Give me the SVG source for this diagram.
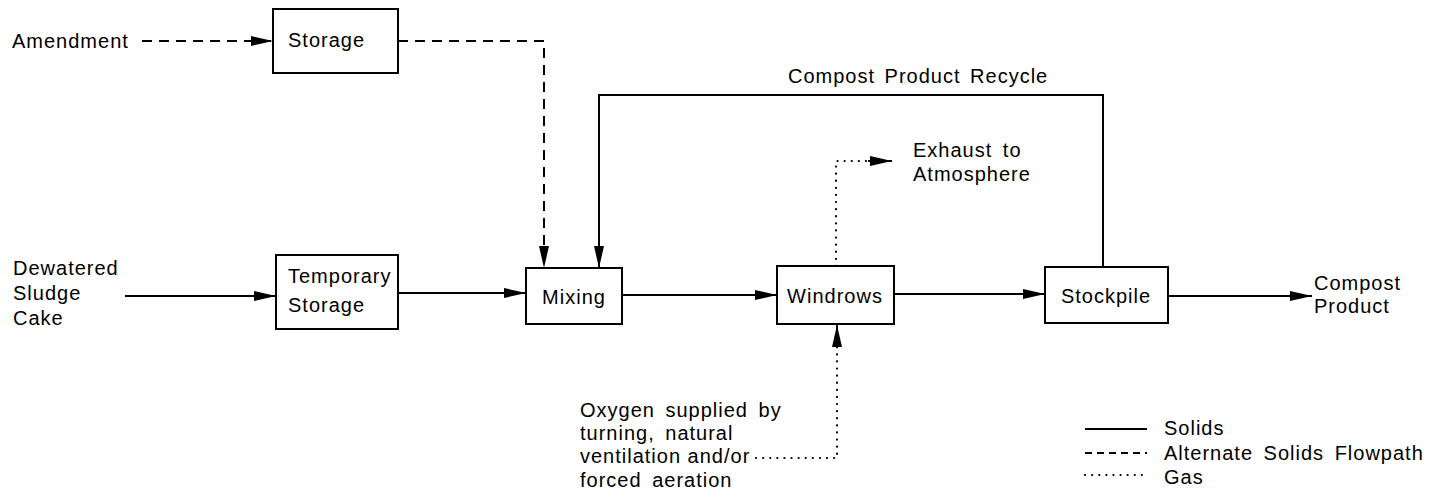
<svg xmlns="http://www.w3.org/2000/svg" width="1440" height="504" viewBox="0 0 1440 504">
<defs>
<style>
text{font-family:"Liberation Sans",Arial,sans-serif;font-size:20px;letter-spacing:1px;fill:#000}
.box{fill:#fff;stroke:#000;stroke-width:2}
.solid{fill:none;stroke:#000;stroke-width:2}
.dash{fill:none;stroke:#000;stroke-width:2;stroke-dasharray:10 7}
.dot{fill:none;stroke:#000;stroke-width:2.2;stroke-dasharray:0.1 7;stroke-linecap:round}
</style>
<marker id="ah" viewBox="0 0 22 12" refX="22" refY="6" markerWidth="22" markerHeight="12" markerUnits="userSpaceOnUse" orient="auto">
<path d="M0,1 L22,6 L0,11 Z" fill="#000"/>
</marker>
</defs>
<rect width="1440" height="504" fill="#fff"/>
<g id="connectors">
<path class="dash" d="M142,41 H273" marker-end="url(#ah)"/>
<path class="dash" d="M398,41 H544 V268" marker-end="url(#ah)"/>
<path class="solid" d="M125,296 H276" marker-end="url(#ah)"/>
<path class="solid" d="M398,293 H526" marker-end="url(#ah)"/>
<path class="solid" d="M622,295 H777" marker-end="url(#ah)"/>
<path class="solid" d="M894,294 H1045" marker-end="url(#ah)"/>
<path class="solid" d="M1168,296 H1312" marker-end="url(#ah)"/>
<path class="solid" d="M1103,267 V95 H599 V268" marker-end="url(#ah)"/>
<path class="dot" d="M836,266 V161 H868"/>
<path class="solid" d="M868,161 H892" marker-end="url(#ah)" stroke="none"/>
<path class="dot" d="M756,458 H837 V345"/>
<path class="solid" d="M837,345 V325" marker-end="url(#ah)" stroke="none"/>
</g>
<g id="labels">
<text x="12" y="48">Amendment</text>
<text x="13" y="275">Dewatered</text>
<text x="13" y="300">Sludge</text>
<text x="13" y="325">Cake</text>
<text x="788" y="83" word-spacing="3">Compost Product Recycle</text>
<text x="913" y="157" word-spacing="4">Exhaust to</text>
<text x="913" y="181">Atmosphere</text>
<text x="1314" y="290">Compost</text>
<text x="1314" y="313">Product</text>
<text x="580" y="417" word-spacing="4">Oxygen supplied by</text>
<text x="580" y="440" word-spacing="4">turning, natural</text>
<text x="580" y="463">ventilation and/or</text>
<text x="580" y="487" word-spacing="4">forced aeration</text>
</g>
<g id="storage"><rect class="box" x="273" y="9" width="125" height="64"/><text x="288" y="47">Storage</text></g>
<g id="temporary-storage"><rect class="box" x="276" y="255" width="122" height="74"/><text x="288" y="283">Temporary</text><text x="288" y="312">Storage</text></g>
<g id="mixing"><rect class="box" x="526" y="268" width="96" height="56"/><text x="574" y="304" text-anchor="middle">Mixing</text></g>
<g id="windrows"><rect class="box" x="777" y="266" width="117" height="58"/><text x="835" y="303" text-anchor="middle">Windrows</text></g>
<g id="stockpile"><rect class="box" x="1045" y="267" width="123" height="56"/><text x="1106" y="303" text-anchor="middle">Stockpile</text></g>
<g id="legend">
<path class="solid" d="M1085,429 H1147"/>
<path class="dash" d="M1085,453 H1147" style="stroke-dasharray:7 5"/>
<path class="dot" d="M1085,475 H1147"/>
<text x="1164" y="435">Solids</text>
<text x="1164" y="460" word-spacing="4">Alternate Solids Flowpath</text>
<text x="1164" y="484">Gas</text>
</g>
</svg>
